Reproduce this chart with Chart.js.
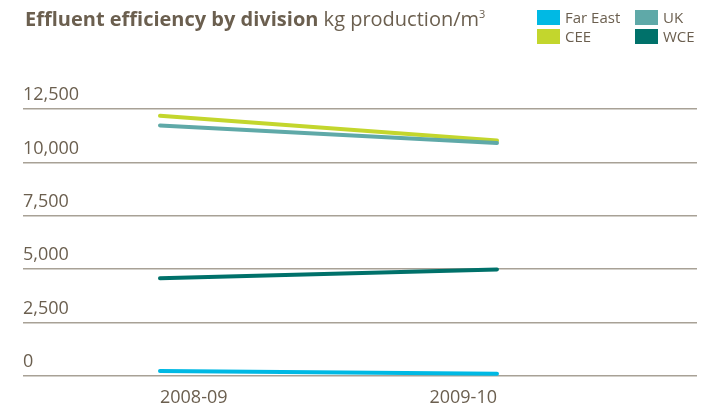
<!DOCTYPE html>
<html>
<head>
<meta charset="utf-8">
<script src="https://cdn.jsdelivr.net/npm/chart.js@4.4.0/dist/chart.umd.min.js"></script>
<style>
  html, body { margin: 0; padding: 0; background: #fff; }
  #wrap { position: relative; width: 713px; height: 406px; }
  #title {
    position: absolute; left: 25px; top: 5px; line-height: 28px;
    font-family: 'Open Sans', sans-serif; font-size: 20px; color: #6b5f4f;
    white-space: nowrap;
  }
  #title b { font-weight: 700; }
  #title sup { font-size: 11px; vertical-align: 8px; line-height: 0; }
  #legend { position: absolute; left: 537px; top: 10px; }
  .item {
    position: absolute; white-space: nowrap; height: 15px;
    font-family: 'Open Sans', sans-serif; font-size: 15px; color: #6b5f4f;
    line-height: 15px;
  }
  .item span.box { display: inline-block; width: 23px; height: 15px; vertical-align: top; margin-right: 5px; }
</style>
</head>
<body>
<div id="wrap">
  <canvas id="effluent-chart"></canvas>
  <div id="title"><b>Effluent efficiency by division</b> kg production/m<sup>3</sup></div>
  <div id="legend"></div>
</div>
<script>
// ─── Data ───────────────────────────────────────────
const years = ['2008-09', '2009-10'];
const farEast = [230, 110];
const uk = [11730, 10910];
const cee = [12180, 11020];
const wce = [4580, 4990];
const yTicks = [0, 2500, 5000, 7500, 10000, 12500];

const textColor = '#6b5f4f';
const gridColor = '#a8a196';

// UK before CEE so it is drawn on top of it
const series = [
  { label: 'Far East', data: farEast, color: '#00b9e4', col: 0, row: 0 },
  { label: 'UK', data: uk, color: '#5fa9a8', col: 1, row: 0 },
  { label: 'CEE', data: cee, color: '#c3d62d', col: 0, row: 1 },
  { label: 'WCE', data: wce, color: '#00716a', col: 1, row: 1 },
];

// html legend, two columns
const legend = document.getElementById('legend');
for (const s of series) {
  const el = document.createElement('div');
  el.className = 'item';
  el.style.left = (s.col * 98) + 'px';
  el.style.top = (s.row * 19) + 'px';
  el.innerHTML = '<span class="box" style="background:' + s.color + '"></span>' + s.label;
  legend.appendChild(el);
}

const ctx = document.getElementById('effluent-chart');

new Chart(ctx, {
  type: 'line',
  data: {
    datasets: series.map((s) => ({
      label: s.label,
      data: s.data.map((v, i) => ({ x: i, y: v })),
      borderColor: s.color,
      backgroundColor: s.color,
      borderWidth: 4,
      borderCapStyle: 'round',
      pointRadius: 0,
      tension: 0,
      fill: false,
    })),
  },
  options: {
    responsive: true,
    maintainAspectRatio: false,
    animation: false,
    layout: { padding: { left: 23, right: 16, top: 109, bottom: 0 } },
    plugins: {
      legend: { display: false },
      tooltip: { enabled: false },
    },
    scales: {
      x: {
        type: 'linear',
        min: -0.4065,
        max: 1.5935,
        afterBuildTicks: (axis) => {
          axis.ticks = years.map((y, i) => ({ value: i }));
        },
        // fixed axis height so the labels sit low without shrinking the plot
        afterFit: (axis) => { axis.height = 30; },
        grid: { display: false, drawTicks: false },
        border: { display: false },
        ticks: {
          color: textColor,
          font: { family: 'Open Sans', size: 18 },
          align: 'inner',
          padding: 11,
          maxRotation: 0,
          callback: (v) => years[v],
        },
      },
      y: {
        min: 0,
        max: 12500,
        afterBuildTicks: (axis) => {
          axis.ticks = yTicks.map((v) => ({ value: v }));
        },
        grid: { color: gridColor, lineWidth: 1.5, drawTicks: false },
        border: { display: false },
        ticks: {
          mirror: true,
          padding: 0,
          labelOffset: -14,
          color: textColor,
          font: { family: 'Open Sans', size: 18 },
          callback: (v) => v.toLocaleString('en-US'),
        },
      },
    },
  },
});
</script>
</body>
</html>
